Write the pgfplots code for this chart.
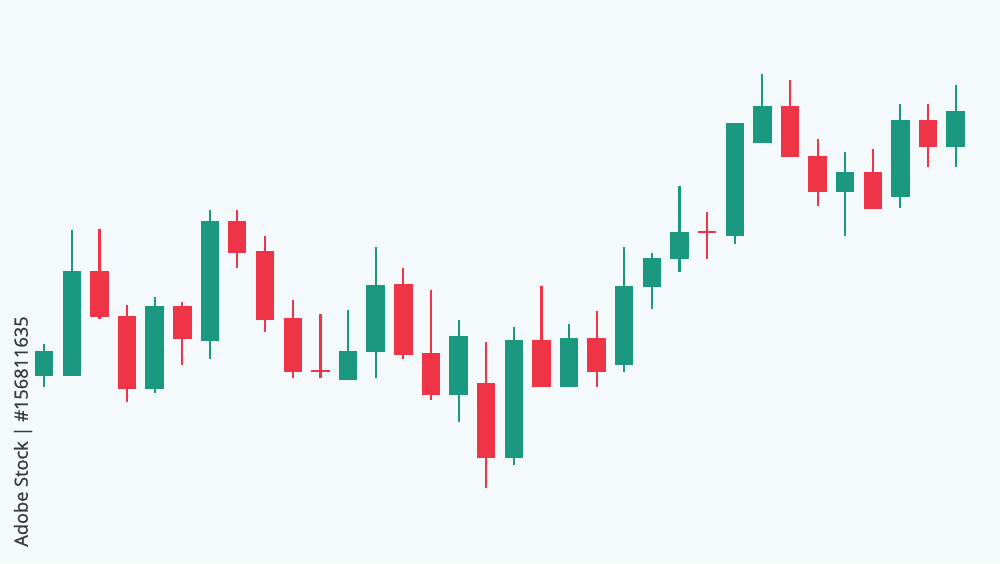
\documentclass[border=0pt]{standalone}
\usepackage{pgfplots}
\usepackage{pgfplotstable}
\usepackage{fontspec}
\setmainfont{Open Sans}
\newfontfamily\wmfont{Open Sans}[FakeBold=1.2]
\pgfplotsset{compat=1.18}
\definecolor{bg}{RGB}{244,249,252}
\definecolor{upc}{RGB}{26,153,128}
\definecolor{downc}{RGB}{238,52,70}
\definecolor{wm}{RGB}{58,58,58}
% rising candles (close > open)
\pgfplotstableread{
x open high low close
44.0 187.0 219.0 176.0 212.3
71.8 187.0 333.0 187.0 291.7
154.7 174.0 266.3 169.7 257.3
209.8 221.7 353.0 203.7 342.3
348.0 182.7 253.3 182.7 212.3
375.7 210.7 316.0 184.7 278.3
458.7 168.0 243.0 141.3 227.3
513.8 105.3 236.0 98.0 223.0
569.0 176.0 238.7 176.0 225.0
624.2 198.0 316.3 191.3 276.7
651.8 276.0 310.0 253.7 305.3
679.5 303.7 377.0 291.0 331.3
734.8 327.3 439.7 318.7 439.7
762.3 420.0 489.0 420.0 456.7
845.0 371.0 411.0 327.3 391.3
900.3 366.3 459.0 355.3 443.0
955.7 415.7 478.0 396.3 451.7
}\uptab
% falling candles (close < open)
\pgfplotstableread{
x open high low close
99.5 291.7 333.7 244.0 245.7
127.0 246.7 257.7 160.7 174.0
182.3 257.3 260.7 197.7 224.0
237.0 341.7 353.0 295.0 310.0
265.2 311.7 327.0 230.7 243.0
292.8 244.7 262.7 184.7 191.0
320.5 193.3 249.3 184.7 191.3
403.3 279.3 295.0 204.0 208.3
431.0 210.3 272.7 163.3 168.0
486.0 179.7 220.7 74.7 105.3
541.5 223.0 276.7 176.0 176.0
596.7 225.0 251.7 176.0 191.3
707.0 331.7 350.7 303.7 329.7
790.0 456.7 482.7 405.7 405.7
817.7 406.7 424.3 357.3 371.0
872.8 391.3 413.7 353.7 353.7
928.0 443.0 459.0 396.3 415.7
}\downtab
\begin{document}
\begin{tikzpicture}
\begin{axis}[
  width=500pt, height=281.5pt, scale only axis,
  xmin=0, xmax=1000, ymin=0, ymax=563,
  axis line style={draw=none}, ticks=none,
  axis background/.style={fill=bg},
]
% wicks
\addplot[draw=none, mark=none, forget plot,
  error bars/.cd, y dir=plus, y explicit, error mark=none,
  error bar style={draw=upc, line width=1.15pt}]
  table[x=x, y=low, y error expr=\thisrow{high}-\thisrow{low}] {\uptab};
\addplot[draw=none, mark=none, forget plot,
  error bars/.cd, y dir=plus, y explicit, error mark=none,
  error bar style={draw=downc, line width=1.15pt}]
  table[x=x, y=low, y error expr=\thisrow{high}-\thisrow{low}] {\downtab};
% bodies
\addplot[draw=none, mark=none, forget plot,
  error bars/.cd, y dir=plus, y explicit, error mark=none,
  error bar style={draw=upc, line width=9.25pt}]
  table[x=x, y=open, y error expr=\thisrow{close}-\thisrow{open}] {\uptab};
\addplot[draw=none, mark=none, forget plot,
  error bars/.cd, y dir=plus, y explicit, error mark=none,
  error bar style={draw=downc, line width=9.25pt}]
  table[x=x, y=close, y error expr=\thisrow{open}-\thisrow{close}] {\downtab};
\node[rotate=90, text=wm, font=\wmfont\fontsize{9.1}{10}\selectfont] at (axis cs:23,131.5) {Adobe Stock | \#156811635};
\end{axis}
\end{tikzpicture}
\end{document}
